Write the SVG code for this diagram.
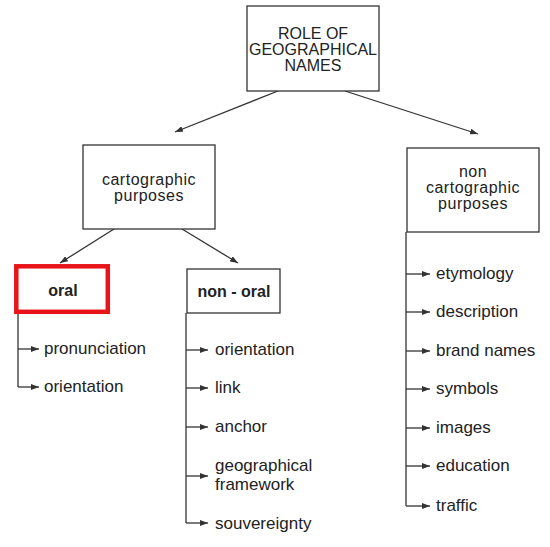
<svg xmlns="http://www.w3.org/2000/svg" width="550" height="547" viewBox="0 0 550 547">
<style>
.box{fill:#fff;stroke:#333;stroke-width:1.3}
.ln{fill:none;stroke:#333;stroke-width:1.3}
text{font-family:"Liberation Sans",Arial,sans-serif;fill:#222}
.t{font-size:16px;text-anchor:middle}
.c{font-size:16px;letter-spacing:0.5px;text-anchor:middle}
.b{font-size:16px;font-weight:bold;text-anchor:middle}
.i{font-size:17px}
</style>
<defs>
<marker id="ah" viewBox="0 0 8 6" refX="8" refY="3" markerWidth="8" markerHeight="6" markerUnits="userSpaceOnUse" orient="auto">
<path d="M0,0 L8,3 L0,6 z" fill="#333"/>
</marker>
</defs>
<rect width="550" height="547" fill="#fff"/>
<g id="connectors">
<line class="ln" x1="278" y1="91" x2="175" y2="132" marker-end="url(#ah)"/>
<line class="ln" x1="345" y1="91" x2="478" y2="134" marker-end="url(#ah)"/>
<line class="ln" x1="114" y1="229" x2="60" y2="263" marker-end="url(#ah)"/>
<line class="ln" x1="182" y1="229" x2="238" y2="263" marker-end="url(#ah)"/>
<path class="ln" d="M18,314 V387"/>
<path class="ln" d="M18,349 H39" marker-end="url(#ah)"/>
<path class="ln" d="M18,387 H39" marker-end="url(#ah)"/>
<path class="ln" d="M186,313 V523"/>
<path class="ln" d="M186,350 H208" marker-end="url(#ah)"/>
<path class="ln" d="M186,388 H208" marker-end="url(#ah)"/>
<path class="ln" d="M186,427 H208" marker-end="url(#ah)"/>
<path class="ln" d="M186,476 H208" marker-end="url(#ah)"/>
<path class="ln" d="M186,523 H208" marker-end="url(#ah)"/>
<path class="ln" d="M406,232 V506"/>
<path class="ln" d="M406,274 H430" marker-end="url(#ah)"/>
<path class="ln" d="M406,312 H430" marker-end="url(#ah)"/>
<path class="ln" d="M406,351 H430" marker-end="url(#ah)"/>
<path class="ln" d="M406,389 H430" marker-end="url(#ah)"/>
<path class="ln" d="M406,428 H430" marker-end="url(#ah)"/>
<path class="ln" d="M406,466 H430" marker-end="url(#ah)"/>
<path class="ln" d="M406,506 H430" marker-end="url(#ah)"/>
</g>
<g id="root">
<rect class="box" x="247" y="6" width="132" height="85"/>
<text class="t" x="313" y="38.5">ROLE OF</text>
<text class="t" x="313" y="54.7">GEOGRAPHICAL</text>
<text class="t" x="313" y="70.9">NAMES</text>
</g>
<g id="cartographic">
<rect class="box" x="83" y="145" width="132" height="84"/>
<text class="c" x="149" y="185">cartographic</text>
<text class="c" x="149" y="201.2">purposes</text>
</g>
<g id="noncartographic">
<rect class="box" x="407" y="148" width="132" height="84"/>
<text class="c" x="473" y="176.5">non</text>
<text class="c" x="473" y="192.7">cartographic</text>
<text class="c" x="473" y="208.9">purposes</text>
</g>
<g id="oral">
<rect x="16.3" y="266.3" width="91.5" height="45.5" fill="#fff" stroke="#e8141a" stroke-width="4.5"/>
<text class="b" x="63" y="296">oral</text>
</g>
<g id="nonoral">
<rect class="box" x="187" y="269" width="93" height="44"/>
<text class="b" x="234" y="297">non - oral</text>
</g>
<g id="oral-items">
<text class="i" x="44" y="354">pronunciation</text>
<text class="i" x="44" y="392">orientation</text>
</g>
<g id="nonoral-items">
<text class="i" x="215" y="355">orientation</text>
<text class="i" x="215" y="393">link</text>
<text class="i" x="215" y="432">anchor</text>
<text class="i" x="215" y="471">geographical</text>
<text class="i" x="215" y="490">framework</text>
<text class="i" x="215" y="529">souvereignty</text>
</g>
<g id="noncart-items">
<text class="i" x="436" y="279">etymology</text>
<text class="i" x="436" y="317">description</text>
<text class="i" x="436" y="356">brand names</text>
<text class="i" x="436" y="394">symbols</text>
<text class="i" x="436" y="433">images</text>
<text class="i" x="436" y="471">education</text>
<text class="i" x="436" y="511">traffic</text>
</g>
</svg>
